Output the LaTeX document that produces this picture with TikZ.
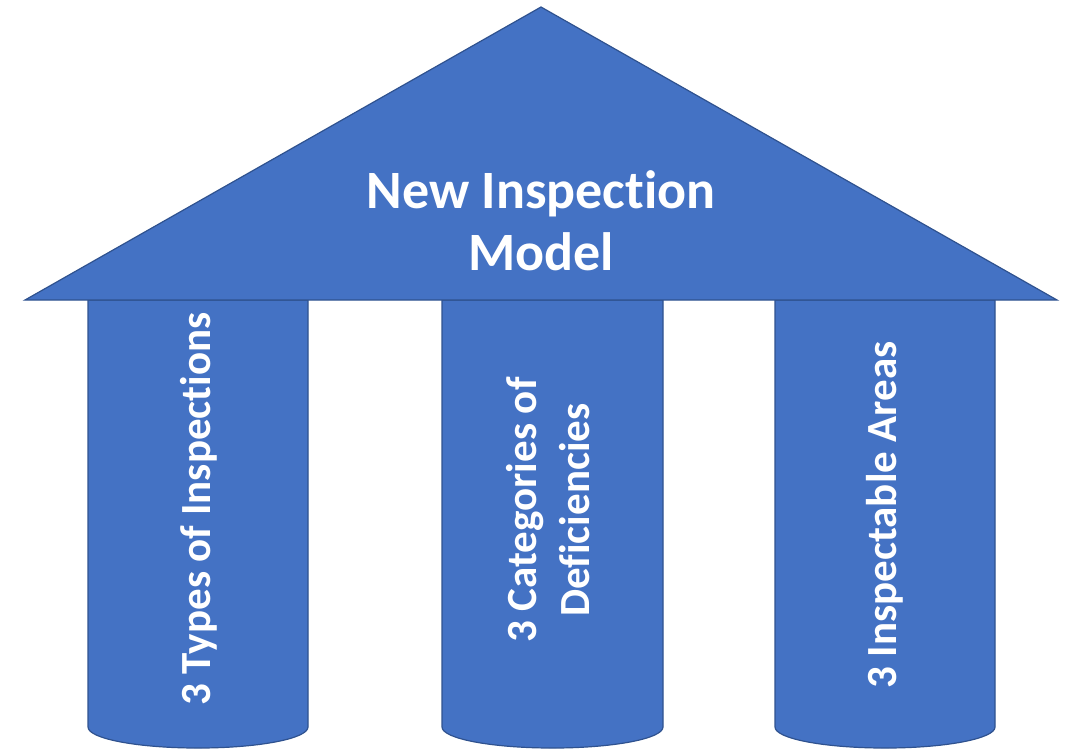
\documentclass[tikz,border=0pt]{standalone}
\usepackage{fontspec}
\setmainfont{Carlito}[Ligatures={NoCommon}]
\usetikzlibrary{positioning}
\definecolor{roofblue}{HTML}{4472C4}
\definecolor{edgeblue}{HTML}{2F528F}

\begin{document}
\begin{tikzpicture}[x=0.5pt,y=-0.5pt,
  part/.style={fill=roofblue,draw=edgeblue,line width=0.6pt},
  rooftext/.style={text=white,align=center,font=\bfseries\fontsize{27}{31}\selectfont},
  pillartext/.style={text=white,align=center,rotate=90,font=\bfseries\fontsize{21.5}{26.5}\selectfont}]
\useasboundingbox (0,0) rectangle (1068,750);

% Pillars
\draw[part] (88,300) -- (88,727) arc (180:0:110 and 21) -- (308,300) -- cycle;
\draw[part] (442,300) -- (442,727) arc (180:0:110.5 and 21) -- (663,300) -- cycle;
\draw[part] (775,300) -- (775,727) arc (180:0:110 and 21) -- (995,300) -- cycle;

% Roof
\draw[part] (25,300) -- (541,7) -- (1057,300) -- cycle;

% Labels
\node[rooftext] (model) at (541,221) {New Inspection\\Model};
\node[pillartext] (types) at (199,509) {3 Types of Inspections};
\node[pillartext] (categories) at (548,510) {3 Categories of\\Deficiencies};
\node[pillartext] (areas) at (885,515) {3 Inspectable Areas};
\end{tikzpicture}
\end{document}
